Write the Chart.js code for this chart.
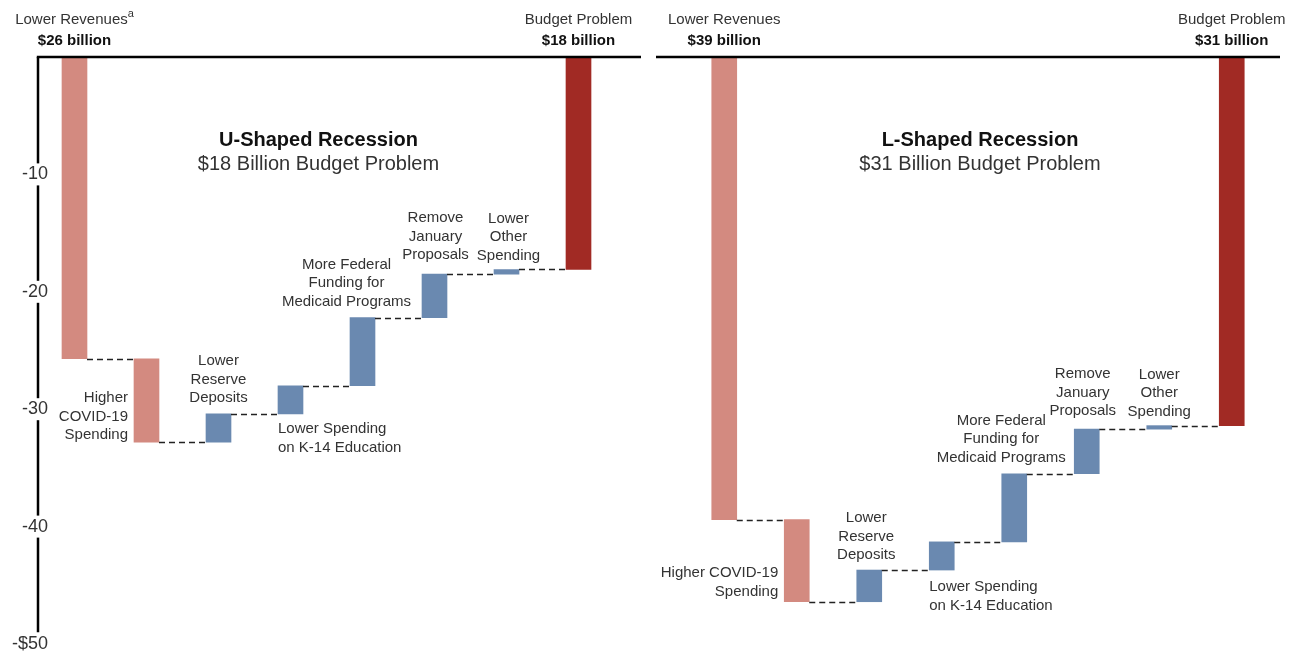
<!DOCTYPE html>
<html>
<head>
<meta charset="utf-8">
<script src="https://cdn.jsdelivr.net/npm/chart.js@4.4.1/dist/chart.umd.min.js"></script>
<style>
  html, body { margin: 0; padding: 0; background: #fff; }
  #wrap { position: relative; width: 1296px; height: 654px; }
  #wrap canvas { position: absolute; top: 0; }
</style>
</head>
<body>
<div id="wrap">
  <canvas id="uChart" width="648" height="654" style="left:0"></canvas>
  <canvas id="lChart" width="648" height="654" style="left:648px"></canvas>
</div>
<script>
// 数据 - 两种衰退情景下的预算问题 (十亿美元)
const categories = [
    'Lower Revenues', 'Higher COVID-19 Spending', 'Lower Reserve Deposits',
    'Lower Spending on K-14 Education', 'More Federal Funding for Medicaid Programs',
    'Remove January Proposals', 'Lower Other Spending', 'Budget Problem'
];
const barKinds = ['cost', 'cost', 'help', 'help', 'help', 'help', 'help', 'total'];

// U 型衰退: 每根柱子的起点和终点
const uFrom = [0, -25.7, -32.8, -30.4, -28.0, -22.2, -18.5, 0];
const uTo   = [-25.7, -32.8, -30.4, -28.0, -22.2, -18.5, -18.1, -18.1];

// L 型衰退
const lFrom = [0, -39.4, -46.4, -43.7, -41.3, -35.5, -31.7, 0];
const lTo   = [-39.4, -46.4, -43.7, -41.3, -35.5, -31.7, -31.4, -31.4];

const yTicks = [-10, -20, -30, -40, -50];

const uHeads = [
    { i: 0, name: 'Lower Revenues', sup: 'a', value: '$26 billion' },
    { i: 7, name: 'Budget Problem', value: '$18 billion' }
];
const lHeads = [
    { i: 0, name: 'Lower Revenues', value: '$39 billion' },
    { i: 7, name: 'Budget Problem', value: '$31 billion' }
];

const uNotes = [
    { i: 1, lines: ['Higher', 'COVID-19', 'Spending'], pos: 'left', dy: -7 },
    { i: 2, lines: ['Lower', 'Reserve', 'Deposits'], pos: 'above', dy: -16 },
    { i: 3, lines: ['Lower Spending', 'on K-14 Education'], pos: 'below', dy: 15 },
    { i: 4, lines: ['More Federal', 'Funding for', 'Medicaid Programs'], pos: 'above', dx: -16, dy: -16 },
    { i: 5, lines: ['Remove', 'January', 'Proposals'], pos: 'above', dx: 1, dy: -19 },
    { i: 6, lines: ['Lower', 'Other', 'Spending'], pos: 'above', dx: 2, dy: -14 }
];
const lNotes = [
    { i: 1, lines: ['Higher COVID-19', 'Spending'], pos: 'left', dy: -10 },
    { i: 2, lines: ['Lower', 'Reserve', 'Deposits'], pos: 'above', dx: -3, dy: -15 },
    { i: 3, lines: ['Lower Spending', 'on K-14 Education'], pos: 'below', dy: 17 },
    { i: 4, lines: ['More Federal', 'Funding for', 'Medicaid Programs'], pos: 'above', dx: -13, dy: -16 },
    { i: 5, lines: ['Remove', 'January', 'Proposals'], pos: 'above', dx: -4, dy: -18 },
    { i: 6, lines: ['Lower', 'Other', 'Spending'], pos: 'above', dy: -14 }
];

const COLORS = { cost: '#d38a80', help: '#6a89b0', total: '#a12a24' };
const FONT = '"Liberation Sans", Arial, sans-serif';
const TEXT = '#333333';
const LINE_H = 18.5;

/**
 * 瀑布图装饰: 轴线, 虚线连接, 文字标注
 */
function decorPlugin(cfg) {
    return {
        id: 'decor',
        beforeDraw(chart) {
            if (!cfg.axis) return;
            const y = chart.scales.y;
            const ctx = chart.ctx;
            ctx.save();
            ctx.strokeStyle = '#000';
            ctx.lineWidth = 2.5;
            ctx.beginPath();
            ctx.moveTo(cfg.axisX, y.getPixelForValue(0));
            ctx.lineTo(cfg.axisX, y.getPixelForValue(-49));
            ctx.stroke();
            ctx.restore();
        },
        afterDatasetsDraw(chart) {
            const ctx = chart.ctx;
            const y = chart.scales.y;
            const bars = chart.getDatasetMeta(0).data;
            const box = i => {
                const el = bars[i];
                return {
                    x: el.x, w: el.width,
                    top: Math.min(el.y, el.base), bottom: Math.max(el.y, el.base)
                };
            };
            ctx.save();

            // 虚线连接
            ctx.strokeStyle = '#222';
            ctx.lineWidth = 1.5;
            ctx.setLineDash([6, 4]);
            for (let i = 0; i < bars.length - 1; i++) {
                const a = box(i), b = box(i + 1);
                const py = Math.round(y.getPixelForValue(cfg.to[i])) + 0.5;
                ctx.beginPath();
                ctx.moveTo(a.x + a.w / 2, py);
                ctx.lineTo(b.x - b.w / 2, py);
                ctx.stroke();
            }
            ctx.setLineDash([]);

            // 顶部零线
            ctx.strokeStyle = '#000';
            ctx.lineWidth = 2.5;
            ctx.beginPath();
            const y0 = y.getPixelForValue(0);
            ctx.moveTo(cfg.topLine[0], y0);
            ctx.lineTo(cfg.topLine[1], y0);
            ctx.stroke();

            ctx.fillStyle = TEXT;
            ctx.textBaseline = 'middle';

            // 顶部标题 (名称 + 金额)
            cfg.heads.forEach(h => {
                const b = box(h.i);
                ctx.font = '15px ' + FONT;
                const nw = ctx.measureText(h.name).width;
                let sw = 0;
                if (h.sup) {
                    ctx.font = '11px ' + FONT;
                    sw = ctx.measureText(h.sup).width;
                }
                const start = b.x - (nw + sw) / 2;
                ctx.textAlign = 'left';
                ctx.font = '15px ' + FONT;
                ctx.fillText(h.name, start, 20);
                if (h.sup) {
                    ctx.font = '11px ' + FONT;
                    ctx.fillText(h.sup, start + nw, 14);
                }
                ctx.fillStyle = '#111';
                ctx.font = 'bold 15px ' + FONT;
                ctx.textAlign = 'center';
                ctx.fillText(h.value, b.x, 41);
                ctx.fillStyle = TEXT;
            });

            // 柱子旁的说明文字
            ctx.font = '15px ' + FONT;
            cfg.notes.forEach(n => {
                const b = box(n.i);
                const dx = n.dx || 0;
                const count = n.lines.length;
                n.lines.forEach((line, k) => {
                    if (n.pos === 'above') {
                        ctx.textAlign = 'center';
                        ctx.fillText(line, b.x + dx, b.top + n.dy - (count - 1 - k) * LINE_H);
                    } else if (n.pos === 'left') {
                        ctx.textAlign = 'right';
                        ctx.fillText(line, b.x - b.w / 2 - 6 + dx, b.bottom + n.dy - (count - 1 - k) * LINE_H);
                    } else {
                        ctx.textAlign = 'left';
                        ctx.fillText(line, b.x - b.w / 2 + dx, b.bottom + n.dy + k * LINE_H);
                    }
                });
            });

            // 图内标题
            const cx = (box(3).x + box(4).x) / 2 + cfg.titleDx;
            ctx.textAlign = 'center';
            ctx.fillStyle = '#111';
            ctx.font = 'bold 20px ' + FONT;
            ctx.fillText(cfg.title, cx, 140);
            ctx.fillStyle = TEXT;
            ctx.font = '20px ' + FONT;
            ctx.fillText(cfg.subtitle, cx, 164);

            ctx.restore();
        }
    };
}

function buildChart(canvasId, from, to, cfg) {
    const ctx = document.getElementById(canvasId).getContext('2d');
    return new Chart(ctx, {
        type: 'bar',
        data: {
            labels: categories,
            datasets: [{
                data: from.map((v, i) => ({ x: i, y: [v, to[i]] })),
                backgroundColor: barKinds.map(k => COLORS[k]),
                borderWidth: 0,
                borderSkipped: false,
                barThickness: 25
            }]
        },
        options: {
            responsive: false,
            animation: false,
            layout: { padding: cfg.padding },
            plugins: {
                legend: { display: false },
                tooltip: { enabled: false }
            },
            scales: {
                x: { type: 'linear', display: false, offset: false, min: cfg.xMin, max: 7.5 },
                y: {
                    display: cfg.axis,
                    min: -50,
                    max: 0,
                    afterFit: s => { s.width = cfg.axisWidth || 0; },
                    afterBuildTicks: s => {
                        s.ticks = yTicks.map(v => ({ value: v }));
                    },
                    border: { display: false },
                    grid: { display: false, drawTicks: false },
                    ticks: {
                        padding: 0,
                        color: TEXT,
                        font: { family: FONT, size: 18, lineHeight: 1 },
                        showLabelBackdrop: true,
                        backdropColor: '#ffffff',
                        backdropPadding: { top: 2, bottom: 2, left: 1, right: 1 },
                        callback: v => (v === -50 ? '-$50' : String(v))
                    }
                }
            }
        },
        plugins: [decorPlugin(Object.assign({ to: to }, cfg))]
    });
}

buildChart('uChart', uFrom, uTo, {
    axis: true,
    axisX: 38,
    axisWidth: 48,
    xMin: -0.368,
    padding: { top: 57, bottom: 10, left: 0, right: 33.5 },
    topLine: [36.8, 641],
    heads: uHeads,
    notes: uNotes,
    title: 'U-Shaped Recession',
    subtitle: '$18 Billion Budget Problem',
    titleDx: -8
});

buildChart('lChart', lFrom, lTo, {
    axis: false,
    xMin: -0.5,
    padding: { top: 57, bottom: 10, left: 40, right: 28 },
    topLine: [8, 632],
    heads: lHeads,
    notes: lNotes,
    title: 'L-Shaped Recession',
    subtitle: '$31 Billion Budget Problem',
    titleDx: 2
});
</script>
</body>
</html>
